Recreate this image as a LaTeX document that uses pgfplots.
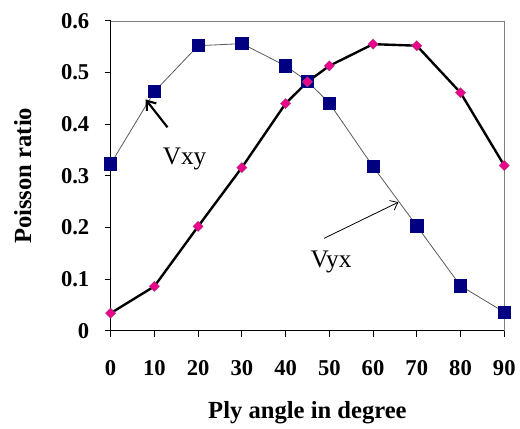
\documentclass[border=0pt]{standalone}
\usepackage{fontspec}
\setmainfont{Liberation Serif}
\usepackage{pgfplots}
\pgfplotsset{compat=1.18}
\usetikzlibrary{arrows.meta}
\definecolor{navy}{RGB}{0,0,128}
\begin{document}
\begin{tikzpicture}
\begin{axis}[
    scale only axis,
    width=296pt, height=233pt,
    xmin=0, xmax=90, ymin=0, ymax=0.6,
    xtick={0,10,...,90},
    ytick={0,0.1,0.2,0.3,0.4,0.5,0.6},
    yticklabels={0,0.1,0.2,0.3,0.4,0.5,0.6},
    axis x line*=bottom, axis y line*=left,
    axis line style={black, line width=0.8pt, -},
    tick align=outside,
    major tick length=4.5pt,
    tick style={black, line width=0.8pt},
    /pgf/number format/assume math mode=true,
    ticklabel style={font=\fontsize{17}{20}\selectfont\bfseries},
    xticklabel style={yshift=-14pt},
    yticklabel style={xshift=-8pt},
    xlabel={Ply angle in degree},
    ylabel={Poisson ratio},
    label style={font=\fontsize{18.5}{22}\selectfont\bfseries},
    xlabel style={at={(axis description cs:0.5,-0.265)}, anchor=center},
    ylabel style={at={(axis description cs:-0.223,0.5)}, anchor=center},
    clip=false,
]
\draw[gray, line width=0.6pt] (rel axis cs:0,1) -- (rel axis cs:1,1) -- (rel axis cs:1,0);
\path (rel axis cs:-0.281,-0.309) rectangle (rel axis cs:1.035,1.0675);

% Vxy
\addplot[gray!70!black, line width=0.6pt, mark=square*, mark size=4.6pt,
    mark options={fill=navy, draw=navy, solid}] coordinates {
(0,0.323) (10,0.463) (20,0.552) (30,0.556) (40,0.513) (45,0.483)
(50,0.441) (60,0.318) (70,0.203) (80,0.087) (90,0.036)
};
% Vyx
\addplot[black, line width=1.8pt, mark=square*, mark size=2.7pt,
    mark options={rotate=45, fill=magenta, draw=magenta!60!black, line width=0.3pt, solid}] coordinates {
(0,0.034) (10,0.086) (20,0.202) (30,0.316) (40,0.440) (45,0.482)
(50,0.513) (60,0.555) (70,0.552) (80,0.461) (90,0.320)
};

\draw[line width=1.6pt, -{Straight Barb[length=6pt, width=9pt]}] (axis cs:13,0.394) -- (axis cs:8,0.448);
\node[font=\fontsize{19}{22}\selectfont] at (axis cs:16.9,0.332) {Vxy};
\draw[line width=0.6pt, -{Straight Barb[length=5pt, width=8pt]}] (axis cs:48.8,0.179) -- (axis cs:65.8,0.249);
\node[font=\fontsize{19}{22}\selectfont] at (axis cs:50.4,0.133) {Vyx};
\end{axis}
\end{tikzpicture}
\end{document}
